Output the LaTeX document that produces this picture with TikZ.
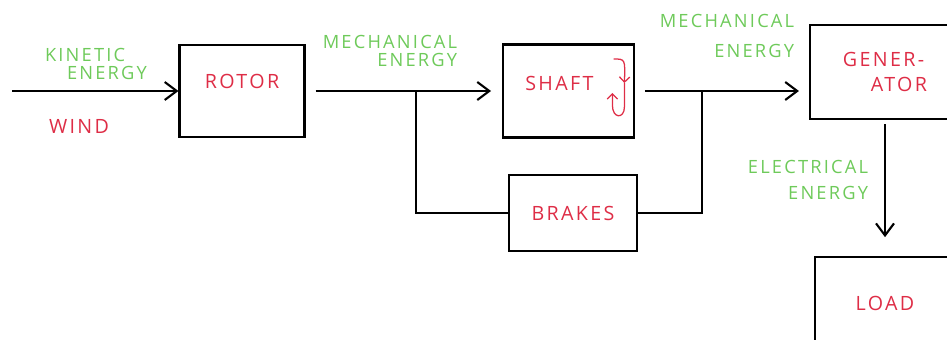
\documentclass[tikz,border=0pt]{standalone}
\usepackage{fontspec}
\setmainfont{Open Sans}
\newfontfamily\sketchfont[LetterSpace=12]{Open Sans}
\usepackage{tikz}
\usetikzlibrary{calc,positioning,arrows.meta}
\usepackage{xcolor}
\definecolor{mygreen}{RGB}{110,202,90}
\definecolor{myred}{RGB}{222,45,70}

\begin{document}
\begin{tikzpicture}[
  block/.style={draw, rectangle, line width=1.5pt, text=myred, align=left, font=\sketchfont\fontsize{14}{18}\selectfont},
  wire/.style={line width=1.5pt},
  flow/.style={wire, -{Straight Barb[length=3mm,width=4.5mm]}},
  lbl/.style={text=mygreen, font=\sketchfont\fontsize{13}{#1}\selectfont},
  lbl/.default=14
]
  \useasboundingbox (0,0) rectangle (23.675,8.475);
  \clip (0,0) rectangle (23.675,8.475);

  % Blocks
  \node[block, minimum width=3.125cm, minimum height=2.3cm, text depth=0.5cm] (rotor) at (6.05,6.2) {ROTOR};
  \node[block, minimum width=3.275cm, minimum height=2.325cm, text depth=0.4cm] (shaft) at (14.21,6.2) {SHAFT\hspace{0.45cm}};
  \node[block, minimum width=3.2cm, minimum height=1.9cm] (brakes) at (14.325,3.15) {BRAKES};
  \node[block, minimum width=3.75cm, minimum height=2.35cm] (gen) at (22.125,6.675) {GENER-\\\hspace*{0.7cm}ATOR};
  \node[block, minimum width=3.5cm, minimum height=2.3cm] (load) at (22.125,0.9) {LOAD};

  % Rotation mark on the shaft
  \begin{scope}[shift={(shaft.center)}, myred, line width=0.9pt]
    \draw[-{Straight Barb[length=1.3mm,width=2.6mm]}] (1.13,0.8) .. controls (1.42,0.8) .. (1.4,0.2);
    \draw[-{Straight Barb[length=1.3mm,width=2.6mm]}] (1.4,0.2) -- (1.4,-0.4) .. controls (1.4,-0.7) and (1.1,-0.7) .. (1.1,-0.35) -- (1.1,-0.05);
  \end{scope}

  % Connectors
  \coordinate (windin) at (0.3,6.2);
  \coordinate (split) at (10.4,6.2);
  \coordinate (merge) at (17.55,6.2);
  \draw[flow] (windin) -- (rotor.west);
  \draw[flow, shorten <=2.5mm, shorten >=2.7mm] (rotor.east) -- (shaft.west);
  \draw[wire] (split) |- (brakes.west);
  \draw[flow, shorten <=2.5mm, shorten >=2.5mm] (shaft.east) -- (shaft.east -| gen.west);
  \draw[wire] (brakes.east) -| (merge);
  \draw[flow, shorten <=1mm, shorten >=4.7mm] (gen) -- (load);

  % Labels
  \node[lbl=13, align=left] (kinetic) at (2.4,6.875) {KINETIC\\\hspace*{0.55cm}ENERGY};
  \node[text=myred, font=\sketchfont\fontsize{14}{17}\selectfont] (wind) at (1.975,5.325) {WIND};
  \node[lbl=13, align=right] (mech1) at (9.75,7.2) {MECHANICAL\\ENERGY};
  \node[lbl=22, align=right] (mech2) at (18.175,7.575) {MECHANICAL\\ENERGY};
  \node[lbl=18, align=right] (elec) at (20.2,3.975) {ELECTRICAL\\ENERGY};
\end{tikzpicture}
\end{document}
